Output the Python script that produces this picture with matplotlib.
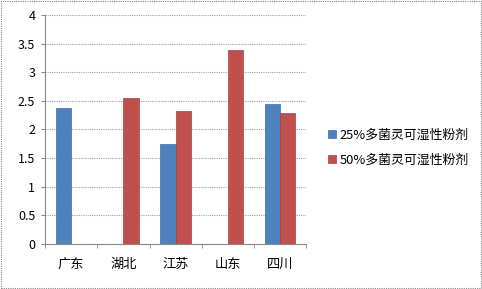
import matplotlib
matplotlib.use("Agg")
import matplotlib.pyplot as plt
import numpy as np

plt.rcParams['font.family'] = ['Noto Sans CJK SC', 'DejaVu Sans']

provinces = ['广东', '湖北', '江苏', '山东', '四川']
series_names = ['25%多菌灵可湿性粉剂', '50%多菌灵可湿性粉剂']
pct25 = [2.38, 0, 1.75, 0, 2.45]
pct50 = [0, 2.55, 2.32, 3.39, 2.29]
colors = ['#4F81BD', '#C0504D']

fig = plt.figure(figsize=(4.82, 2.89), dpi=100)
ax = fig.add_axes([0.0934, 0.156, 0.542, 0.792])

x = np.arange(len(provinces))
w = 0.29
ax.bar(x - w / 2, pct25, w, color=colors[0], edgecolor='#3A6EA8', linewidth=0.5,
       label=series_names[0], zorder=3)
ax.bar(x + w / 2, pct50, w, color=colors[1], edgecolor='#A8403D', linewidth=0.5,
       label=series_names[1], zorder=3)

ax.set_xlim(-0.5, len(provinces) - 0.5)
ax.set_ylim(0, 4)
ax.set_yticks(np.arange(0, 4.01, 0.5))
ax.set_yticklabels(['0', '0.5', '1', '1.5', '2', '2.5', '3', '3.5', '4'])
ax.yaxis.grid(True, color='#A0A0A0', linestyle=(0, (1, 1)), linewidth=0.8, zorder=0)

ax.set_xticks(x)
ax.set_xticklabels(provinces)
ax.set_xticks(np.arange(-0.5, len(provinces)), minor=True)
ax.tick_params(axis='x', which='major', length=0, pad=10, labelsize=9.5)
ax.tick_params(axis='x', which='minor', length=3, color='#888888', direction='out')
ax.tick_params(axis='y', length=3, color='#888888', labelsize=9, pad=4)

for s in ['top', 'right']:
    ax.spines[s].set_visible(False)
for s in ['left', 'bottom']:
    ax.spines[s].set_color('#888888')
    ax.spines[s].set_linewidth(0.8)

ax.legend(loc='center left', bbox_to_anchor=(1.04, 0.42), frameon=False,
          fontsize=9.3, handlelength=0.6, handleheight=0.6, handletextpad=0.3,
          labelspacing=0.95)

fig.patches.append(plt.Rectangle((0.002, 0.003), 0.996, 0.994, transform=fig.transFigure,
                                 fill=False, edgecolor='#888888', linestyle=(0, (1, 1)),
                                 linewidth=0.8))

fig.savefig('out.png', dpi=100)
